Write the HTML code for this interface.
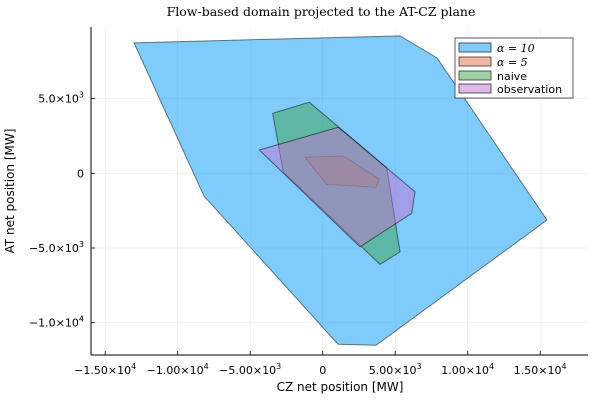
<!DOCTYPE html>
<html><head><meta charset="utf-8"><style>
body{margin:0;background:#fff}
svg{display:block;font-family:"DejaVu Sans","Liberation Sans",sans-serif}
</style></head><body>
<svg id="chart" width="600" height="400">
<text x="321" y="16" font-family="DejaVu Serif, Liberation Serif, serif" font-size="12.5" text-anchor="middle">Flow-based domain projected to the AT-CZ plane</text>
<g id="grid"></g><g id="polys"></g><g id="axes"></g>
<text x="340" y="391" font-size="12" text-anchor="middle">CZ net position [MW]</text>
<text transform="translate(14,191) rotate(-90)" font-size="12" text-anchor="middle">AT net position [MW]</text>
<g>
<rect x="455" y="38" width="118" height="60" fill="#fff" stroke="#333" stroke-width="0.8"/>
<rect x="459" y="43" width="32" height="9" fill="#80ccfc" stroke="#333" stroke-width="0.8"/>
<text x="497" y="52" font-size="11" font-family="DejaVu Serif, serif" font-style="italic">α = 10</text>
<rect x="459" y="57" width="32" height="9" fill="#f0b7a2" stroke="#333" stroke-width="0.8"/>
<text x="497" y="66" font-size="11" font-family="DejaVu Serif, serif" font-style="italic">α = 5</text>
<rect x="459" y="71" width="32" height="9" fill="#9ed1a6" stroke="#333" stroke-width="0.8"/>
<text x="497" y="80" font-size="11">naive</text>
<rect x="459" y="84" width="32" height="9" fill="#e0b8e8" stroke="#333" stroke-width="0.8"/>
<text x="497" y="93" font-size="11">observation</text>
</g>
</svg>
<script>
const xTicks=[-15000,-10000,-5000,0,5000,10000,15000];
const xTickLabels=["−1.50×10<tspan dy='-5' font-size='8'>4</tspan>","−1.00×10<tspan dy='-5' font-size='8'>4</tspan>","−5.00×10<tspan dy='-5' font-size='8'>3</tspan>","0","5.00×10<tspan dy='-5' font-size='8'>3</tspan>","1.00×10<tspan dy='-5' font-size='8'>4</tspan>","1.50×10<tspan dy='-5' font-size='8'>4</tspan>"];
const yTicks=[5000,0,-5000,-10000];
const yTickLabels=["5.0×10<tspan dy='-5' font-size='8'>3</tspan>","0","−5.0×10<tspan dy='-5' font-size='8'>3</tspan>","−1.0×10<tspan dy='-5' font-size='8'>4</tspan>"];
const alpha10X=[-13014,5331,7883,15469,3676,1055,-8186];
const alpha10Y=[8733,9200,7728,-3130,-11508,-11441,-1522];
const alpha5X=[-1221,1421,3903,3676,276];
const alpha5Y=[1072,1160,-382,-938,-737];
const naiveX=[-3448,-924,4414,5331,3952,2690,-2717];
const naiveY=[4016,4759,375,-5255,-6099,-4920,67];
const obsX=[-4372,1076,6366,6138,2572];
const obsY=[1562,3083,-1233,-2681,-4920];
const sx=v=>322.7+v*72.5/5000, sy=v=>173.3-v*74.7/5000;
const NS="http://www.w3.org/2000/svg";
const L=91,R=588,T=27,B=355;
const grid=document.getElementById('grid'),axes=document.getElementById('axes'),polys=document.getElementById('polys');
function mk(tag,attrs,parent){const e=document.createElementNS(NS,tag);for(const k in attrs)e.setAttribute(k,attrs[k]);parent.appendChild(e);return e;}
xTicks.forEach((t,i)=>{const x=sx(t);
 const g=mk('line',{x1:x,x2:x,y1:T,y2:B,stroke:'#000','stroke-opacity':0.1,'stroke-width':0.5},grid);
 
 
 mk('line',{x1:x,x2:x,y1:B,y2:B-4,stroke:'#000','stroke-width':0.8},axes);
 const tx=mk('text',{x:x,y:374,'font-size':11,'text-anchor':'middle'},axes);tx.innerHTML=xTickLabels[i];
 
 });
yTicks.forEach((t,i)=>{const y=sy(t);
 const g=mk('line',{x1:L,x2:R,y1:y,y2:y,stroke:'#000','stroke-opacity':0.1,'stroke-width':0.5},grid);
 
 
 mk('line',{x1:L,x2:L+4,y1:y,y2:y,stroke:'#000','stroke-width':0.8},axes);
 const tx=mk('text',{x:84,y:y+4,'font-size':11,'text-anchor':'end'},axes);tx.innerHTML=yTickLabels[i];
 
 });
mk('line',{x1:L,x2:R,y1:B,y2:B,stroke:'#000','stroke-width':1},axes);
mk('line',{x1:L,x2:L,y1:T,y2:B,stroke:'#000','stroke-width':1},axes);
function poly(xs,ys,fill,name){const pts=xs.map((x,i)=>sx(x)+','+sy(ys[i])).join(' ');
 const p=mk('polygon',{points:pts,fill:fill,'fill-opacity':0.5,stroke:'#000','stroke-opacity':0.5,'stroke-width':1},polys);
 
 }
poly(alpha10X,alpha10Y,'#009af9','domain-alpha10');
poly(alpha5X,alpha5Y,'#e26f46','domain-alpha5');
poly(naiveX,naiveY,'#3da44d','domain-naive');
poly(obsX,obsY,'#c271d2','domain-observation');
</script>
</body></html>
